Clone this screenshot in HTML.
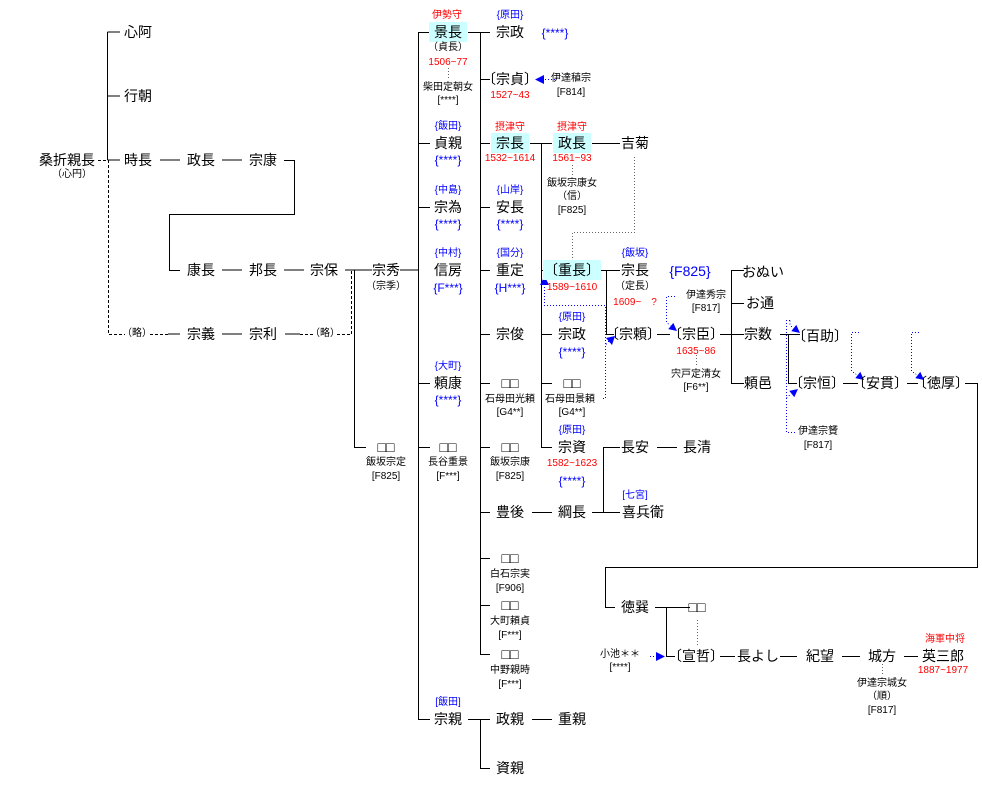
<!DOCTYPE html>
<html><head><meta charset="utf-8">
<style>
html,body{margin:0;padding:0;background:#fff;}
#c{position:relative;width:982px;height:792px;overflow:hidden;font-family:"Liberation Sans","Noto Sans CJK JP",sans-serif;color:#000;}
.t,.s{position:absolute;transform:translate(-50%,-50%);white-space:nowrap;line-height:1;}
.t{font-size:14px;}
.s{font-size:10px;}
.m{font-size:12px;}
.r{color:#f00;}
.b{color:#00f;}
.h{background:#ccffff;padding:3px 5px;}
svg{position:absolute;left:0;top:0;}
</style></head><body><div id="c">
<svg width="982" height="792" shape-rendering="crispEdges">
<g stroke="#000" stroke-width="1" fill="none">
<path d="M107.5,32V160M107.5,32H120M107.5,96H120M107.5,160H120"/>
<path d="M160,160H180M222,160H242M284,160.5H294.5V214.5H169.5V270.5H180"/>
<path d="M222,270H242M284,270H304M345,270H372M354.5,270V447.5H366"/>
<path d="M168,334H180M222,334H242M285,334H300"/>
<path d="M400,270H418M418.5,32V719.5H430M418,32.5H430M418,143.5H430M418,207.5H430M418,383.5H430M418,447.5H430"/>
<path d="M468,32.5H490M480.5,32V654.5H490M480,79.5H490M480,143.5H490M480,207.5H490M480,270.5H490M480,334.5H490M480,383.5H490M480,447.5H490M480,512.5H490M480,558.5H490M480,605.5H490"/>
<path d="M468,719.5H490M480.5,719V768.5H490M532,719.5H552M532,512.5H552"/>
<path d="M530,143.5H552M541.5,143V447.5H552M541,270.5H552M541,334.5H552M541,383.5H552"/>
<path d="M592,143.5H620M592,270.5H620M606.5,270V334.5H614"/>
<path d="M592,512.5H620M603.5,447V512M603,447.5H620M657,447.5H677"/>
<path d="M657,334.5H670M720,334.5H744M731.5,270V383.5H744M731,270.5H744M731,303.5H744"/>
<path d="M780,334.5H800M788.5,334V383.5H797M843,383.5H858M907,383.5H918M965,383.5H977.5V567.5H605.5V607.5H615"/>
<path d="M655,607.5H690M666.5,607V656.5H675M720,656.5H735M780,656.5H797M842,656.5H860M904,656.5H918"/>
</g>
<g stroke="#000" stroke-width="1" fill="none" stroke-dasharray="3,2">
<path d="M98,160.5H107M108.5,160V334.5H125M150,334.5H168M300,334.5H313M337,334.5H351.5V270"/>
</g>
<g stroke="#666" stroke-width="1" fill="none" stroke-dasharray="1,2">
<path d="M634.5,157V232.5H572.5V262M448.5,68V78M572.5,165V175M697.5,620V645M882.5,664V676M696.5,355V366"/>
</g>
<g stroke="#00f" stroke-width="1" fill="none" stroke-dasharray="1,2">
<path d="M555,79.5H542"/>
<path d="M603,398.5H605.5V305.5H544.5V284"/>
<path d="M605.5,398V345L609,341"/>
<path d="M675,296.5H666.5V322L670,326"/>
<path d="M790,320.5H786.5V432.5H795M790,320.5V325L793,328"/>
<path d="M786.5,398L791,394"/>
<path d="M859,332.5H851.5V371L857,375"/>
<path d="M919,332.5H911.5V371L917,375"/>
<path d="M650,656.5H657"/>
</g>
<g fill="#00f" shape-rendering="geometricPrecision">
<polygon points="535,79.5 544,75 544,84"/>
<polygon points="544.5,276 540,285 549,285"/>
<polygon points="615,336 606,338 612,345"/>
<polygon points="677,331 668.3,329.1 673.3,322.9"/>
<polygon points="800,333 791.3,331.1 796.3,324.9"/>
<polygon points="798,389 794.3,397.1 789.3,390.9"/>
<polygon points="864,380 855.3,378.1 860.3,371.9"/>
<polygon points="924,380 915.3,378.1 920.3,371.9"/>
<polygon points="665,656.5 656,652 656,661"/>
</g>
</svg>

<div class="t" style="left:138px;top:32px">心阿</div>
<div class="t" style="left:138px;top:96px">行朝</div>
<div class="t" style="left:67px;top:160px">桑折親長</div>
<div class="s" style="left:72px;top:175px">（心円）</div>
<div class="t" style="left:138px;top:160px">時長</div>
<div class="t" style="left:201px;top:160px">政長</div>
<div class="t" style="left:263px;top:160px">宗康</div>
<div class="t" style="left:201px;top:270px">康長</div>
<div class="t" style="left:263px;top:270px">邦長</div>
<div class="t" style="left:324px;top:270px">宗保</div>
<div class="s" style="left:137px;top:334px">（略）</div>
<div class="t" style="left:201px;top:334px">宗義</div>
<div class="t" style="left:263px;top:334px">宗利</div>
<div class="s" style="left:325px;top:334px">（略）</div>
<div class="t" style="left:386px;top:270px">宗秀</div>
<div class="s" style="left:386px;top:287px">（宗季）</div>
<div class="t" style="left:386px;top:447px">□□</div>
<div class="s" style="left:386px;top:463px">飯坂宗定</div>
<div class="s" style="left:386px;top:477px">[F825]</div>

<div class="s r" style="left:447px;top:16px">伊勢守</div>
<div class="t h" style="left:448px;top:32px">景長</div>
<div class="s" style="left:448px;top:48px">（貞長）</div>
<div class="s r" style="left:448px;top:63px">1506~77</div>
<div class="s" style="left:448px;top:88px">柴田定朝女</div>
<div class="s" style="left:448px;top:101px">[****]</div>
<div class="s b" style="left:448px;top:127px">{飯田}</div>
<div class="t" style="left:448px;top:143px">貞親</div>
<div class="m b" style="left:448px;top:160px;position:absolute;transform:translate(-50%,-50%);line-height:1">{****}</div>
<div class="s b" style="left:448px;top:191px">{中島}</div>
<div class="t" style="left:448px;top:207px">宗為</div>
<div class="m b" style="left:448px;top:224px;position:absolute;transform:translate(-50%,-50%);line-height:1">{****}</div>
<div class="s b" style="left:448px;top:254px">{中村}</div>
<div class="t" style="left:448px;top:270px">信房</div>
<div class="m b" style="left:448px;top:288px;position:absolute;transform:translate(-50%,-50%);line-height:1">{F***}</div>
<div class="s b" style="left:448px;top:367px">{大町}</div>
<div class="t" style="left:448px;top:383px">頼康</div>
<div class="m b" style="left:448px;top:400px;position:absolute;transform:translate(-50%,-50%);line-height:1">{****}</div>
<div class="t" style="left:448px;top:447px">□□</div>
<div class="s" style="left:448px;top:463px">長谷重景</div>
<div class="s" style="left:448px;top:477px">[F***]</div>
<div class="s b" style="left:448px;top:703px">[飯田]</div>
<div class="t" style="left:448px;top:719px">宗親</div>

<div class="s b" style="left:510px;top:16px">{原田}</div>
<div class="t" style="left:510px;top:32px">宗政</div>
<div class="m b" style="left:555px;top:33px;position:absolute;transform:translate(-50%,-50%);line-height:1">{****}</div>
<div class="t" style="left:510px;top:79px">〔宗貞〕</div>
<div class="s r" style="left:510px;top:96px">1527~43</div>
<div class="s" style="left:571px;top:79px">伊達稙宗</div>
<div class="s" style="left:571px;top:93px">[F814]</div>
<div class="s r" style="left:510px;top:128px">摂津守</div>
<div class="t h" style="left:510px;top:143px">宗長</div>
<div class="s r" style="left:510px;top:159px">1532~1614</div>
<div class="s b" style="left:510px;top:191px">{山岸}</div>
<div class="t" style="left:510px;top:207px">安長</div>
<div class="m b" style="left:510px;top:224px;position:absolute;transform:translate(-50%,-50%);line-height:1">{****}</div>
<div class="s b" style="left:510px;top:254px">{国分}</div>
<div class="t" style="left:510px;top:270px">重定</div>
<div class="m b" style="left:510px;top:288px;position:absolute;transform:translate(-50%,-50%);line-height:1">{H***}</div>
<div class="t" style="left:510px;top:334px">宗俊</div>
<div class="t" style="left:510px;top:383px">□□</div>
<div class="s" style="left:510px;top:400px">石母田光頼</div>
<div class="s" style="left:510px;top:413px">[G4**]</div>
<div class="t" style="left:510px;top:447px">□□</div>
<div class="s" style="left:510px;top:463px">飯坂宗康</div>
<div class="s" style="left:510px;top:477px">[F825]</div>
<div class="t" style="left:510px;top:512px">豊後</div>
<div class="t" style="left:510px;top:558px">□□</div>
<div class="s" style="left:510px;top:575px">白石宗実</div>
<div class="s" style="left:510px;top:589px">[F906]</div>
<div class="t" style="left:510px;top:605px">□□</div>
<div class="s" style="left:510px;top:622px">大町頼貞</div>
<div class="s" style="left:510px;top:636px">[F***]</div>
<div class="t" style="left:510px;top:654px">□□</div>
<div class="s" style="left:510px;top:671px">中野親時</div>
<div class="s" style="left:510px;top:685px">[F***]</div>
<div class="t" style="left:510px;top:719px">政親</div>
<div class="t" style="left:572px;top:719px">重親</div>
<div class="t" style="left:510px;top:768px">資親</div>

<div class="s r" style="left:572px;top:128px">摂津守</div>
<div class="t h" style="left:572px;top:143px">政長</div>
<div class="s r" style="left:572px;top:159px">1561~93</div>
<div class="s" style="left:572px;top:184px">飯坂宗康女</div>
<div class="s" style="left:572px;top:197px">（信）</div>
<div class="s" style="left:572px;top:211px">[F825]</div>
<div class="t" style="left:635px;top:143px">吉菊</div>
<div class="t h" style="left:572px;top:270px;padding:3px 1px">〔重長〕</div>
<div class="s r" style="left:572px;top:288px">1589~1610</div>
<div class="s b" style="left:572px;top:318px">{原田}</div>
<div class="t" style="left:572px;top:334px">宗政</div>
<div class="m b" style="left:572px;top:352px;position:absolute;transform:translate(-50%,-50%);line-height:1">{****}</div>
<div class="t" style="left:572px;top:383px">□□</div>
<div class="s" style="left:570px;top:400px">石母田景頼</div>
<div class="s" style="left:572px;top:413px">[G4**]</div>
<div class="s b" style="left:572px;top:431px">{原田}</div>
<div class="t" style="left:572px;top:447px">宗資</div>
<div class="s r" style="left:572px;top:464px">1582~1623</div>
<div class="m b" style="left:572px;top:481px;position:absolute;transform:translate(-50%,-50%);line-height:1">{****}</div>
<div class="t" style="left:572px;top:512px">綱長</div>

<div class="s b" style="left:635px;top:254px">{飯坂}</div>
<div class="t" style="left:635px;top:270px">宗長</div>
<div class="t b" style="left:690px;top:271px">{F825}</div>
<div class="s" style="left:635px;top:287px">（定長）</div>
<div class="s r" style="left:635px;top:303px">1609~　?</div>
<div class="t" style="left:633px;top:334px">〔宗頼〕</div>
<div class="s" style="left:706px;top:296px">伊達秀宗</div>
<div class="s" style="left:706px;top:309px">[F817]</div>
<div class="t" style="left:696px;top:334px">〔宗臣〕</div>
<div class="s r" style="left:696px;top:352px">1635~86</div>
<div class="s" style="left:696px;top:375px">宍戸定清女</div>
<div class="s" style="left:696px;top:388px">[F6**]</div>
<div class="t" style="left:635px;top:447px">長安</div>
<div class="t" style="left:697px;top:447px">長清</div>
<div class="s b" style="left:635px;top:496px">[七宮]</div>
<div class="t" style="left:643px;top:512px">喜兵衛</div>

<div class="t" style="left:763px;top:272px">おぬい</div>
<div class="t" style="left:760px;top:303px">お通</div>
<div class="t" style="left:758px;top:334px">宗数</div>
<div class="t" style="left:758px;top:383px">頼邑</div>
<div class="t" style="left:820px;top:336px">〔百助〕</div>
<div class="t" style="left:817px;top:383px">〔宗恒〕</div>
<div class="s" style="left:818px;top:432px">伊達宗贇</div>
<div class="s" style="left:818px;top:446px">[F817]</div>
<div class="t" style="left:880px;top:383px">〔安貫〕</div>
<div class="t" style="left:941px;top:383px">〔徳厚〕</div>

<div class="t" style="left:635px;top:607px">徳巽</div>
<div class="t" style="left:697px;top:607px">□□</div>
<div class="s" style="left:620px;top:655px">小池＊＊</div>
<div class="s" style="left:620px;top:668px">[****]</div>
<div class="t" style="left:696px;top:656px">〔宣哲〕</div>
<div class="t" style="left:758px;top:656px">長よし</div>
<div class="t" style="left:820px;top:656px">紀望</div>
<div class="t" style="left:882px;top:656px">城方</div>
<div class="s r" style="left:945px;top:640px">海軍中将</div>
<div class="t" style="left:943px;top:656px">英三郎</div>
<div class="s r" style="left:943px;top:671px">1887~1977</div>
<div class="s" style="left:882px;top:684px">伊達宗城女</div>
<div class="s" style="left:882px;top:697px">（順）</div>
<div class="s" style="left:882px;top:711px">[F817]</div>
</div></body></html>
